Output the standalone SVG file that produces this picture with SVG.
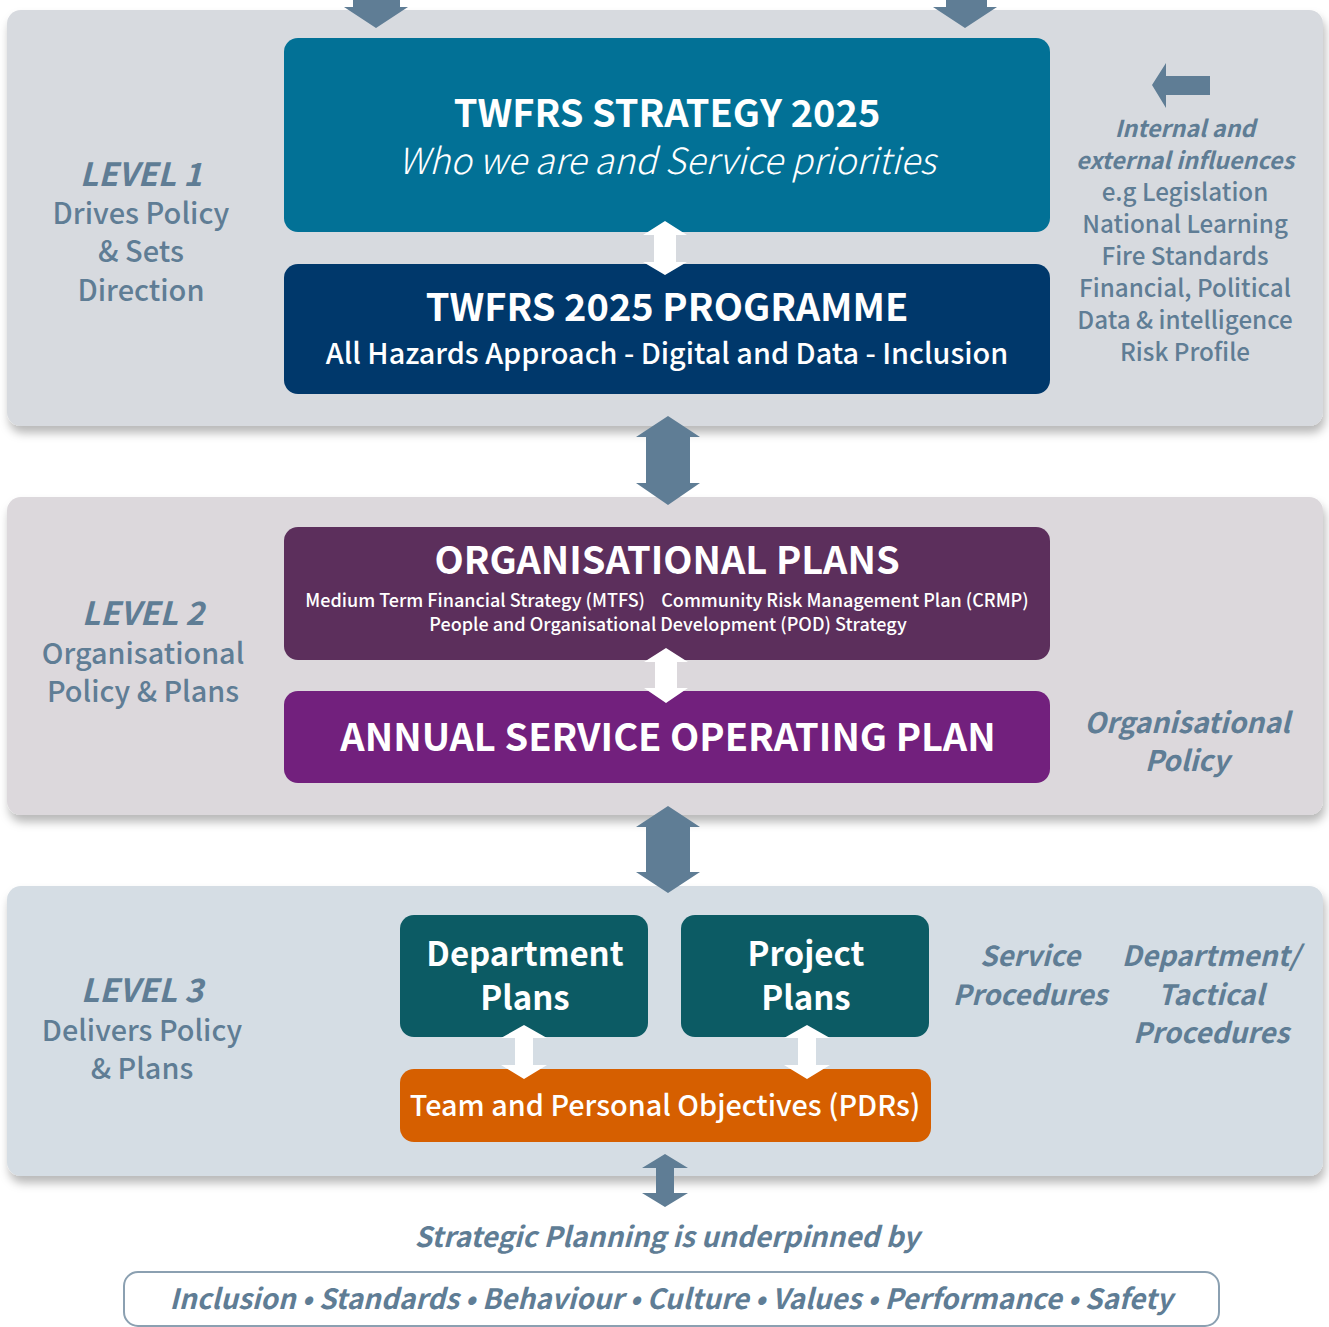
<svg xmlns="http://www.w3.org/2000/svg" width="1329" height="1327" viewBox="0 0 1329 1327">
  <defs>
    <filter id="shadow" x="-5%" y="-10%" width="110%" height="125%">
      <feDropShadow dx="2" dy="7" stdDeviation="5" flood-color="#000" flood-opacity="0.28"/>
    </filter>
    <style>
      text { font-family: "Noto Sans CJK JP", "Source Sans Pro", "Noto Sans", sans-serif; text-anchor: middle; }
      .panel { filter: url(#shadow); }
      .box { stroke: none; }
      .w { fill: #ffffff; }
      .s { fill: #5f7d95; }
      .b { font-weight: 700; }
      .sb { font-weight: 500; }
      .i { font-style: italic; }
      .arrow { fill: #5f7d95; }
      .warrow { fill: #ffffff; }
    </style>
  </defs>

  <rect width="1329" height="1327" fill="#ffffff"/>

  <!-- level panels -->
  <g id="panel-level1">
    <rect class="panel" x="7" y="10" width="1316" height="416" rx="14" fill="#d7dadf"/>
  </g>
  <g id="panel-level2">
    <rect class="panel" x="7" y="497" width="1316" height="318" rx="14" fill="#dcd8dc"/>
  </g>
  <g id="panel-level3">
    <rect class="panel" x="7" y="886" width="1316" height="290" rx="14" fill="#d5dde4"/>
  </g>

  <!-- level 1 -->
  <g id="strategy">
    <rect class="box" x="284" y="38" width="766" height="194" rx="14" fill="#027196"/>
    <text class="w b" x="667" y="127" font-size="38">TWFRS STRATEGY 2025</text>
    <text class="w i" x="667" y="174" font-size="36" font-weight="300">Who we are and Service priorities</text>
  </g>
  <g id="programme">
    <rect class="box" x="284" y="264" width="766" height="130" rx="14" fill="#00386b"/>
    <text class="w b" x="667" y="321" font-size="38">TWFRS 2025 PROGRAMME</text>
    <text class="w sb" x="667" y="364" font-size="28.8">All Hazards Approach - Digital and Data - Inclusion</text>
  </g>
  <g id="level1-label">
    <text class="s b i" x="141" y="186" font-size="32">LEVEL 1</text>
    <text class="s sb" x="141" y="224" font-size="29">Drives Policy</text>
    <text class="s sb" x="141" y="262" font-size="29">&amp; Sets</text>
    <text class="s sb" x="141" y="301" font-size="29">Direction</text>
  </g>
  <g id="influences">
    <text class="s b i" x="1185" y="137" font-size="23.3">Internal and</text>
    <text class="s b i" x="1185" y="169" font-size="23.3">external influences</text>
    <text class="s sb" x="1185" y="201" font-size="24.2">e.g Legislation</text>
    <text class="s sb" x="1185" y="233" font-size="24.2">National Learning</text>
    <text class="s sb" x="1185" y="265" font-size="24.2">Fire Standards</text>
    <text class="s sb" x="1185" y="297" font-size="24.2">Financial, Political</text>
    <text class="s sb" x="1185" y="329" font-size="24.2">Data &amp; intelligence</text>
    <text class="s sb" x="1185" y="361" font-size="24.2">Risk Profile</text>
  </g>

  <!-- level 2 -->
  <g id="organisational-plans">
    <rect class="box" x="284" y="527" width="766" height="133" rx="14" fill="#5c2f5c"/>
    <text class="w b" x="667" y="574" font-size="38">ORGANISATIONAL PLANS</text>
    <text class="w sb" x="667" y="607" font-size="18" xml:space="preserve">Medium Term Financial Strategy (MTFS)    Community Risk Management Plan (CRMP)</text>
    <text class="w sb" x="668" y="631" font-size="18">People and Organisational Development (POD) Strategy</text>
  </g>
  <g id="annual-plan">
    <rect class="box" x="284" y="691" width="766" height="92" rx="14" fill="#72207d"/>
    <text class="w b" x="668" y="751" font-size="38">ANNUAL SERVICE OPERATING PLAN</text>
  </g>
  <g id="level2-label">
    <text class="s b i" x="143" y="625" font-size="32">LEVEL 2</text>
    <text class="s sb" x="143" y="664" font-size="28.8">Organisational</text>
    <text class="s sb" x="143" y="702" font-size="28.8">Policy &amp; Plans</text>
  </g>
  <g id="organisational-policy">
    <text class="s b i" x="1187" y="733" font-size="28.3">Organisational</text>
    <text class="s b i" x="1187" y="771" font-size="28.3">Policy</text>
  </g>

  <!-- level 3 -->
  <g id="department-plans">
    <rect class="box" x="400" y="915" width="248" height="122" rx="14" fill="#0c5b64"/>
    <text class="w b" x="525" y="966" font-size="33">Department</text>
    <text class="w b" x="525" y="1010" font-size="33">Plans</text>
  </g>
  <g id="project-plans">
    <rect class="box" x="681" y="915" width="248" height="122" rx="14" fill="#0c5b64"/>
    <text class="w b" x="806" y="966" font-size="33">Project</text>
    <text class="w b" x="806" y="1010" font-size="33">Plans</text>
  </g>
  <g id="team-objectives">
    <rect class="box" x="400" y="1069" width="531" height="73" rx="14" fill="#d65f00"/>
    <text class="w sb" x="665" y="1116" font-size="28.8">Team and Personal Objectives (PDRs)</text>
  </g>
  <g id="level3-label">
    <text class="s b i" x="142" y="1002" font-size="32">LEVEL 3</text>
    <text class="s sb" x="142" y="1041" font-size="28.8">Delivers Policy</text>
    <text class="s sb" x="142" y="1079" font-size="28.8">&amp; Plans</text>
  </g>
  <g id="service-procedures">
    <text class="s b i" x="1030" y="966" font-size="27.7">Service</text>
    <text class="s b i" x="1030" y="1005" font-size="27.7">Procedures</text>
  </g>
  <g id="tactical-procedures">
    <text class="s b i" x="1211" y="966" font-size="28">Department/</text>
    <text class="s b i" x="1211" y="1005" font-size="28">Tactical</text>
    <text class="s b i" x="1211" y="1043" font-size="28">Procedures</text>
  </g>

  <!-- underpinning values -->
  <g id="underpinned">
    <text class="s b i" x="667" y="1247" font-size="27.9">Strategic Planning is underpinned by</text>
  </g>
  <g id="values">
    <rect x="124" y="1272" width="1095" height="54" rx="14" fill="#ffffff" stroke="#8ba0b1" stroke-width="2"/>
    <text class="s b i" x="671" y="1309" font-size="27.9">Inclusion • Standards • Behaviour • Culture • Values • Performance • Safety</text>
  </g>

  <!-- connectors -->
  <g id="connectors">
    <!-- incoming arrows at top -->
    <polygon class="arrow" points="353,0 400,0 400,7 408,7 376,28 344,7 353,7"/>
    <polygon class="arrow" points="946,0 987,0 987,7 997,7 965,28 933,7 946,7"/>
    <!-- influences arrow -->
    <polygon class="arrow" points="1152,85 1166,63 1166,76 1210,76 1210,95 1166,95 1166,108"/>
    <!-- between panels -->
    <polygon class="arrow" points="668,416 700,437 690,437 690,483 700,483 668,505 636,483 646,483 646,437 636,437"/>
    <polygon class="arrow" points="668,806 700,827 690,827 690,872 700,872 668,893 636,872 646,872 646,827 636,827"/>
    <polygon class="arrow" points="665,1154 688,1168 674,1168 674,1193 688,1193 665,1207 642,1193 656,1193 656,1168 642,1168"/>
    <!-- white links inside panels -->
    <polygon class="warrow" points="665,221 687,235 676,235 676,262 687,262 665,275 643,262 654,262 654,235 643,235"/>
    <polygon class="warrow" points="666,648 688,662 677,662 677,688 688,688 666,703 644,688 655,688 655,662 644,662"/>
    <polygon class="warrow" points="524,1025 547,1038 533,1038 533,1065 547,1065 524,1079 501,1065 515,1065 515,1038 501,1038"/>
    <polygon class="warrow" points="807,1025 830,1038 816,1038 816,1065 830,1065 807,1079 784,1065 798,1065 798,1038 784,1038"/>
  </g>
</svg>
